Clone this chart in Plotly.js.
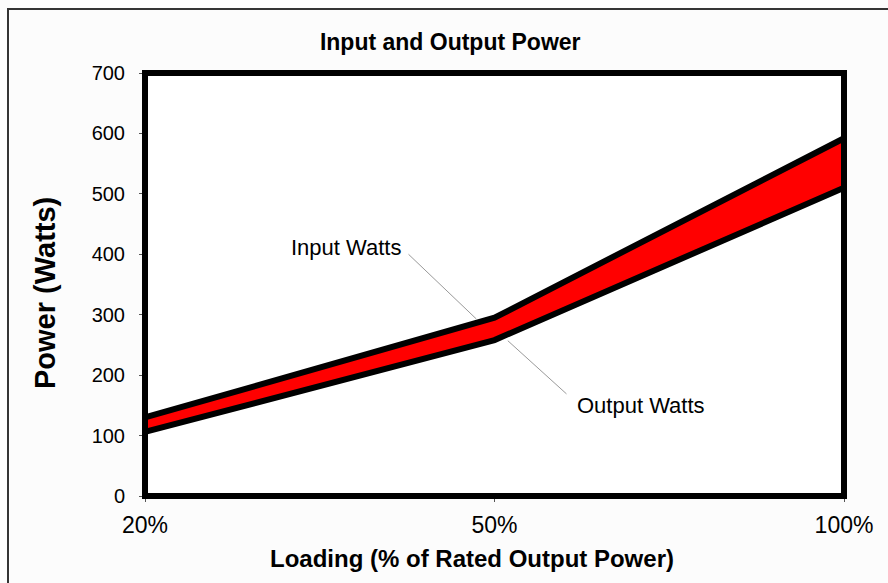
<!DOCTYPE html>
<html>
<head>
<meta charset="utf-8">
<script src="https://cdn.plot.ly/plotly-3.0.1.min.js"></script>
<style>html,body{margin:0;padding:0;background:#fcfcfc;}#chart{width:888px;height:583px;}</style>
</head>
<body>
<div id="chart"></div>
<script>
const loading = ["20%", "50%", "100%"];
const inputWatts = [130, 295, 592];
const outputWatts = [106, 258, 510];
const yTicks = [0, 100, 200, 300, 400, 500, 600, 700];

const FONT = "Liberation Sans, Arial, sans-serif";

const traces = [
  {
    x: loading, y: outputWatts, name: "Output Watts", type: "scatter", mode: "lines",
    line: {color: "#000000", width: 6}, hoverinfo: "x+y"
  },
  {
    x: loading, y: inputWatts, name: "Input Watts", type: "scatter", mode: "lines",
    fill: "tonexty", fillcolor: "#ff0000",
    line: {color: "#000000", width: 6}, hoverinfo: "x+y"
  }
];

const layout = {
  width: 888, height: 583,
  margin: {l: 145, r: 44, t: 73, b: 87},
  paper_bgcolor: "#fcfcfc",
  plot_bgcolor: "#ffffff",
  showlegend: false,
  font: {family: FONT, color: "#000000"},
  title: {
    text: "<b>Input and Output Power</b>",
    font: {family: FONT, size: 23, color: "#000000"},
    x: 0.507, xref: "container", xanchor: "center",
    y: 1 - 42/583, yref: "container", yanchor: "middle"
  },
  xaxis: {
    type: "category", range: [0, 2],
    showgrid: false, zeroline: false, showline: false,
    ticks: "outside", ticklen: 5, tickwidth: 1, tickcolor: "#555555",
    tickfont: {family: FONT, size: 23, color: "#000000"},
    ticklabelstandoff: 3
  },
  yaxis: {
    range: [0, 700], tickvals: yTicks,
    showgrid: false, zeroline: false, showline: false,
    ticks: "outside", ticklen: 5, tickwidth: 1, tickcolor: "#555555",
    tickfont: {family: FONT, size: 20, color: "#000000"},
    ticklabelstandoff: 10
  },
  shapes: [
    {type: "rect", xref: "paper", yref: "paper", x0: 0, x1: 1, y0: 0, y1: 1,
     line: {color: "#000000", width: 6}, layer: "above"},
    {type: "line", xref: "paper", yref: "y", x0: 0.377, y0: 400, x1: 0.474, y1: 293,
     line: {color: "#999999", width: 1}},
    {type: "line", xref: "paper", yref: "y", x0: 0.519, y0: 257, x1: 0.603, y1: 169,
     line: {color: "#999999", width: 1}},
    {type: "rect", xref: "paper", yref: "paper", x0: (8-145)/699, x1: 1.2, y0: -0.4, y1: (496-9)/423,
     line: {color: "#333333", width: 2}, fillcolor: "rgba(0,0,0,0)", layer: "below"}
  ],
  annotations: [
    {text: "Input Watts", xref: "paper", yref: "y", x: 0.287, y: 412, showarrow: false,
     xanchor: "center", yanchor: "middle",
     font: {family: FONT, size: 22, color: "#000000"}},
    {text: "Output Watts", xref: "paper", yref: "y", x: 0.709, y: 150, showarrow: false,
     xanchor: "center", yanchor: "middle",
     font: {family: FONT, size: 22, color: "#000000"}},
    {text: "<b>Loading (% of Rated Output Power)</b>", xref: "paper", yref: "paper",
     x: (472-145)/699, y: (496-558)/423, showarrow: false,
     xanchor: "center", yanchor: "middle",
     font: {family: FONT, size: 24, color: "#000000"}},
    {text: "<b>Power (Watts)</b>", xref: "paper", yref: "paper", textangle: -90,
     x: (45-145)/699, y: (496-293)/423, showarrow: false,
     xanchor: "center", yanchor: "middle",
     font: {family: FONT, size: 29, color: "#000000"}}
  ]
};

Plotly.newPlot("chart", traces, layout, {displayModeBar: false, staticPlot: true});
</script>
</body>
</html>
